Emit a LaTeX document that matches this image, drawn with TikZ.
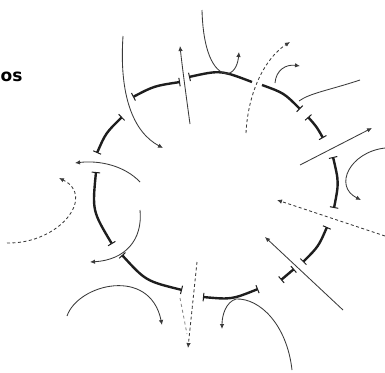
\documentclass[tikz,border=0pt]{standalone}
\usepackage{fontspec}
\newfontfamily\labelfont{DejaVu Sans}
\usetikzlibrary{arrows.meta}
\definecolor{ink}{HTML}{1e1e1e}
\definecolor{thin}{HTML}{3a3a3a}
\tikzset{
  seg/.style={line width=2.4pt, draw=ink, line cap=butt},
  bb/.style={seg, {Bar[width=8.5pt,line width=1pt]}-{Bar[width=8.5pt,line width=1pt]}},
  bl/.style={seg, {Bar[width=8.5pt,line width=1pt]}-},
  br/.style={seg, -{Bar[width=8.5pt,line width=1pt]}},
  flow/.style={line width=0.85pt, draw=thin},
  flowa/.style={flow, -{Latex[length=5pt,width=4.5pt]}},
  dflow/.style={flow, dash pattern=on 3pt off 2.5pt, -{Latex[length=5pt,width=4.5pt]}},
}
\begin{document}
\begin{tikzpicture}[x=1pt,y=-1pt]
\useasboundingbox (0,0) rectangle (385,372);
% label
\node[anchor=base west, inner sep=0pt, font=\labelfont\bfseries\fontsize{17}{17}\selectfont] (lbl) at (0.5,81) {os};
% coordinates of membrane segments
\coordinate (s1a) at (133,97);  \coordinate (s1b) at (180,82);
\coordinate (s2a) at (189,77);  \coordinate (s2b) at (252,82);
\coordinate (s3a) at (262,85);  \coordinate (s3b) at (300,109);
\coordinate (s4a) at (308,117); \coordinate (s4b) at (323,138);
\coordinate (s5a) at (333,157); \coordinate (s5b) at (334,208);
\coordinate (s6a) at (327,227); \coordinate (s6b) at (303,262);
\coordinate (s7a) at (294,269); \coordinate (s7b) at (281,280);
\coordinate (s8a) at (258,289); \coordinate (s8b) at (203,297);
\coordinate (s9a) at (182,290); \coordinate (s9b) at (122,255);
\coordinate (s10a) at (112,244); \coordinate (s10b) at (96,172);
\coordinate (s11a) at (97,153); \coordinate (s11b) at (122,117);
% membrane segments
\draw[bb] (s1a) .. controls (154,86) .. (s1b);
\draw[bl] (s2a) .. controls (220.5,70) .. (s2b);
\draw[br] (s3a) .. controls (284,93) .. (s3b);
\draw[bb] (s4a) .. controls (316.7,126.8) .. (s4b);
\draw[bb] (s5a) .. controls (339,182.5) .. (s5b);
\draw[bb] (s6a) .. controls (318.5,246.5) .. (s6b);
\draw[bb] (s7a) -- (s7b);
\draw[bb] (s8a) .. controls (231.5,299.6) .. (s8b);
\draw[bb] (s9a) .. controls (145.8,281) .. (s9b);
\draw[bb] (s10a) .. controls (92.2,210.8) .. (s10b);
\draw[bb] (s11a) .. controls (105.7,133.1) .. (s11b);
% flow end points
\coordinate (t1a) at (123,36);  \coordinate (t1b) at (163,148);
\coordinate (t2a) at (190,124); \coordinate (t2b) at (180,46);
\coordinate (t3a) at (202,10);  \coordinate (t3m) at (227,74); \coordinate (t3b) at (239,52);
\coordinate (d1a) at (246,133); \coordinate (d1b) at (290,42);
\coordinate (t4a) at (275,83);  \coordinate (t4b) at (300,66);
\coordinate (t5a) at (360,80);  \coordinate (t5b) at (299,101);
\coordinate (t6a) at (300,165); \coordinate (t6b) at (372,128);
\coordinate (t7a) at (385,148); \coordinate (t7b) at (361,200);
\coordinate (d2a) at (385,236); \coordinate (d2b) at (277,200);
\coordinate (t8a) at (343,310); \coordinate (t8b) at (265,237);
\coordinate (t9a) at (292,370); \coordinate (t9m) at (236,299); \coordinate (t9b) at (222,329);
\coordinate (d3a) at (197,262); \coordinate (d3b) at (188,348);
\coordinate (d3c) at (180,298); \coordinate (d3d) at (187,334);
\coordinate (t10a) at (67,316); \coordinate (t10b) at (162,325);
\coordinate (t11a) at (140,210); \coordinate (t11b) at (90,262);
\coordinate (d4a) at (7,243);   \coordinate (d4b) at (59,178);
\coordinate (t12a) at (140,182); \coordinate (t12b) at (75,163);
% flows
\draw[flowa] (t1a) .. controls (119,95) and (133,132) .. (t1b);
\draw[flowa] (t2a) .. controls (186,95) and (182,65) .. (t2b);
\draw[flow] (t3a) .. controls (203,50) and (213,72) .. (t3m);
\draw[flowa] (t3m) .. controls (236,72) and (238,62) .. (t3b);
\draw[dflow] (d1a) .. controls (248,92) and (265,58) .. (d1b);
\draw[flowa] (t4a) .. controls (276,70) and (286,64) .. (t4b);
\draw[flow] (t5a) .. controls (330,90) and (310,93) .. (t5b);
\draw[flowa] (t6a) -- (t6b);
\draw[flowa] (t7a) .. controls (350,152) and (333,186) .. (t7b);
\draw[dflow] (d2a) -- (d2b);
\draw[flowa] (t8a) -- (t8b);
\draw[flow] (t9a) .. controls (287,325) and (260,298) .. (t9m);
\draw[flowa] (t9m) .. controls (226,302) and (222,315) .. (t9b);
\draw[dflow] (d3a) -- (d3b);
\draw[flow, draw=thin!60, dash pattern=on 3pt off 3pt] (d3c) -- (d3d);
\draw[flowa] (t10a) .. controls (78,284) and (150,266) .. (t10b);
\draw[flowa] (t11a) .. controls (143,240) and (125,260) .. (t11b);
\draw[dflow] (d4a) .. controls (60,244) and (96,196) .. (d4b);
\draw[flowa] (t12a) .. controls (125,166) and (100,160) .. (t12b);
\end{tikzpicture}
\end{document}
